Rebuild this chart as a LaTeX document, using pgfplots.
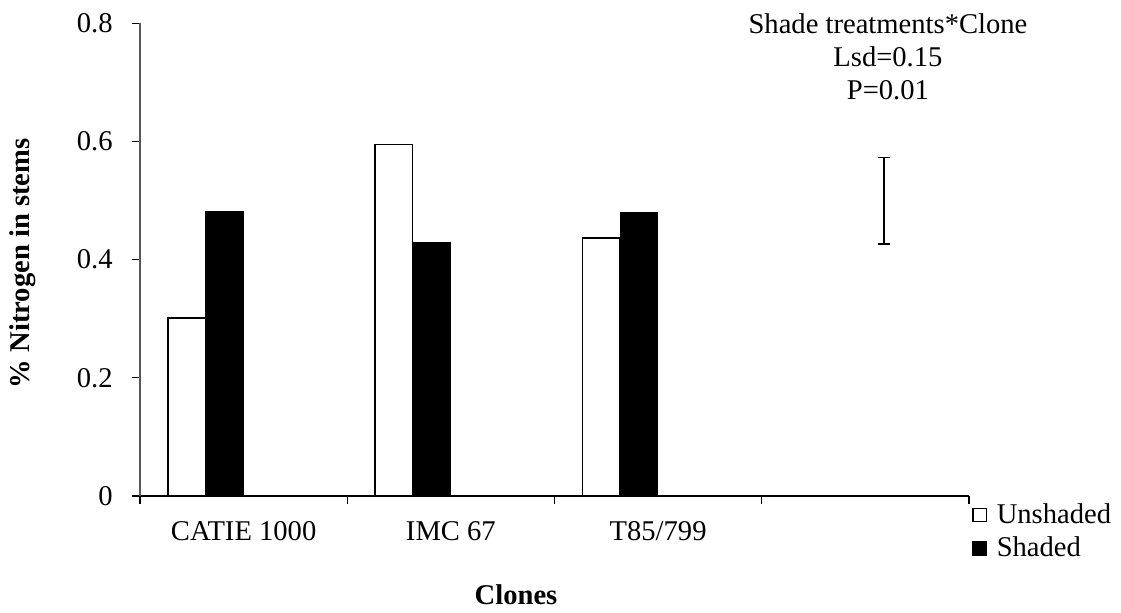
\documentclass[border=0pt]{standalone}
\usepackage{pgfplots}
\pgfplotsset{compat=1.18}
\usepackage{fontspec}
\setmainfont{Liberation Serif}
\begin{document}
\begin{tikzpicture}[font=\fontsize{14.3}{16.5}\selectfont]
\useasboundingbox (0,0) rectangle (560.5pt,306pt);
\begin{axis}[
  at={(70pt,58pt)}, anchor=south west,
  scale only axis, width=414.5pt, height=236.35pt,
  xmin=-0.5, xmax=3.5, ymin=0, ymax=0.8,
  axis x line*=bottom, axis y line*=left,
  x axis line style={black, line width=0.6pt},
  y axis line style={black!65, line width=1pt},
  xtick pos=bottom, ytick pos=left,
  tick align=outside, major tick length=4pt,
  tick style={black, line width=0.6pt},
  ytick={0,0.2,0.4,0.6,0.8},
  yticklabels={0,0.2,0.4,0.6,0.8},
  yticklabel style={inner sep=0pt, anchor=east, xshift=-9.5pt},
  xtick={-0.5,0.5,1.5,2.5,3.5}, xticklabels={},
  extra x ticks={0,1,2},
  extra x tick labels={CATIE 1000,IMC 67,T85/799},
  extra x tick style={major tick length=0pt, tick style={draw=none},
     tick label style={inner sep=0pt, anchor=north, yshift=-12.5pt}},
  /pgf/number format/assume math mode=true,
  clip=false,
  xlabel={\textbf{Clones}},
  xlabel style={at={(rel axis cs:0.4536,0)}, anchor=center, yshift=-49.5pt},
  ylabel={\textbf{\% Nitrogen in stems}},
  ylabel style={at={(rel axis cs:-0.1411,0.492)}, anchor=center, rotate=0},
  legend style={at={(rel axis cs:1.0036,0)}, anchor=north west, yshift=-3.7pt,
     draw=none, fill=none, inner sep=0pt, row sep=5.2pt,
     nodes={inner sep=0pt, anchor=west},
     /tikz/every odd column/.append style={column sep=5pt}},
  legend cell align=left,
  legend image code/.code={\draw[#1, line width=0.6pt] (0pt,-3.3pt) rectangle (6.6pt,3.3pt);},
]
\addplot[ybar, bar width=18.75pt, bar shift=-28.45pt, draw=black, fill=white, line width=0.75pt]
  coordinates {(0,0.301) (1,0.595) (2,0.437)};
\addlegendentry{Unshaded}
\addplot[ybar, bar width=18.75pt, bar shift=-9.45pt, draw=black, fill=black, line width=0.5pt]
  coordinates {(0,0.482) (1,0.429) (2,0.479)};
\addlegendentry{Shaded}
\addplot[forget plot, draw=none, mark=none,
  error bars/.cd, y dir=both, y explicit,
  error bar style={draw=black, line width=0.75pt},
  error mark options={rotate=90, mark size=3pt, line width=0.75pt, draw=black}]
  coordinates {(3.091,0.49975) +- (0,0.07325)};
\node[anchor=north, align=center, inner sep=0pt] at (axis cs:3.109,0.8176)
  {Shade treatments*Clone\\Lsd=0.15\\P=0.01};
\end{axis}
\end{tikzpicture}
\end{document}
